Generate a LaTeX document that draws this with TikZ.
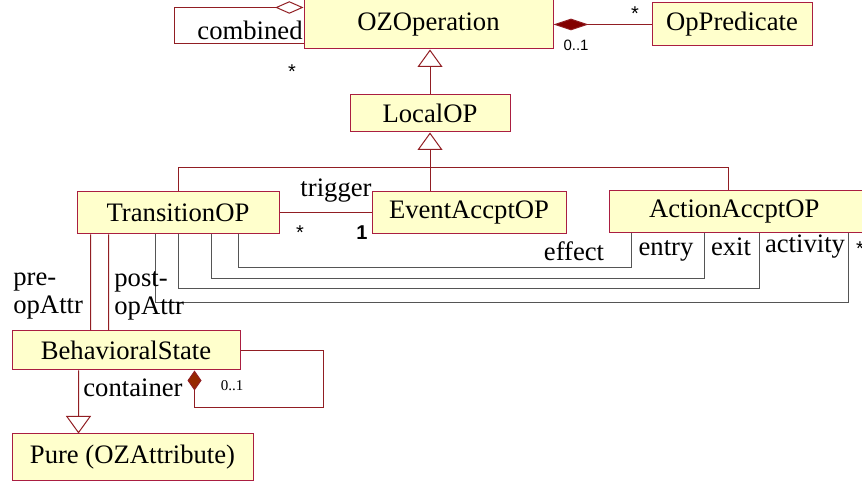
\documentclass[tikz,border=0pt]{standalone}
\usepackage{fontspec}
\setmainfont{Liberation Serif}
\newfontfamily\multfont{Liberation Sans}
\usepackage{tikz}
\usetikzlibrary{arrows.meta}
\usetikzlibrary{positioning}
\definecolor{clsfill}{RGB}{255,255,204}
\definecolor{clsline}{RGB}{170,30,65}
\definecolor{assocline}{RGB}{145,30,35}
\definecolor{refline}{RGB}{85,85,85}
\definecolor{compfill}{RGB}{130,0,0}
\definecolor{contfill}{RGB}{150,40,0}
\tikzstyle{cls}=[draw=clsline, fill=clsfill, line width=0.6pt, inner sep=0pt,
                text=black, font=\fontsize{16}{16.5}\selectfont]
\tikzstyle{elabel}=[fill=none, text=black, inner sep=0pt, align=left,
                font=\fontsize{16}{16.5}\selectfont]
\tikzstyle{mult}=[inner sep=0pt, text=black, font=\multfont\fontsize{12}{13}\selectfont]
\tikzstyle{smult}=[inner sep=0pt, text=black, font=\multfont\fontsize{9}{10}\selectfont]
\tikzstyle{assoc}=[draw=assocline, line width=0.6pt]
\tikzstyle{gen}=[assoc, -{Triangle[open, width=15pt, length=10.5pt, fill=white]}]
\tikzstyle{ref}=[draw=refline, line width=0.6pt]

\begin{document}
\begin{tikzpicture}[x=0.6pt, y=-0.6pt]
  \useasboundingbox (0,0) rectangle (862,481);
  % classes
  \node[cls, minimum width=149.4pt, minimum height=29.4pt] (ozop) at (428.5,24.5) {OZOperation};
  \node[cls, minimum width=96pt, minimum height=25.8pt] (oppred) at (732,24.5) {OpPredicate};
  \node[cls, minimum width=96pt, minimum height=22.2pt] (localop) at (430,113.5) {LocalOP};
  \node[cls, minimum width=121.2pt, minimum height=25.2pt] (trans) at (178,213) {TransitionOP};
  \node[cls, minimum width=116.4pt, minimum height=25.2pt] (event) at (469,213) {EventAccptOP};
  \node[cls, minimum height=25.2pt, text width=114.6pt, inner xsep=24pt, align=left]
    (action) at (744.5,212) {ActionAccptOP};
  \node[cls, minimum width=136.8pt, minimum height=23.4pt] (behav) at (126,350.5) {BehavioralState};
  \node[cls, minimum width=144.6pt, minimum height=27.6pt] (pure) at (132.5,457) {Pure (OZAttribute)};

  % OZOperation
  \draw[assoc, {Diamond[open, length=17pt, width=7.5pt, fill=white]}-]
    ([yshift=-4.8pt]ozop.north west) -- ++(-129,0) |- ([yshift=3.6pt]ozop.south west);
  \node[elabel] (combined) at (250,30) {combined};
  \node[mult] (mcomb) at (292,72) {*};
  \draw[assoc, {Diamond[length=21pt, width=7pt, fill=compfill]}-] (ozop.east) -- (oppred.west);
  \node[smult] (mopa) at (576,45) {0..1};
  \node[mult] (mopb) at (635,14) {*};

  % generalizations
  \draw[gen] (localop.north) -- (localop.north |- ozop.south);
  \draw[gen] (localop.south |- event.north) -- (localop.south);
  \draw[assoc] (trans.north) -- ++(0,-24) -| ([xshift=72pt]action.north west);

  % trigger
  \draw[assoc] (trans.east) -- (event.west);
  \node[elabel] (trigger) at (336,191) {trigger};
  \node[mult] (mtra) at (300,233) {*};
  \node[mult] (mtrb) at (362,233) {\bfseries 1};

  % effect, entry, exit, activity
  \draw[ref] ([xshift=97.2pt]trans.south west) -- ++(0,33) -| ([xshift=13.8pt]action.south west);
  \draw[ref] ([xshift=81pt]trans.south west) -- ++(0,44) -| ([xshift=57.6pt]action.south west);
  \draw[ref] ([xshift=61.2pt]trans.south west) -- ++(0,54) -| ([xshift=90.6pt]action.south west);
  \draw[ref] ([xshift=47.4pt]trans.south west) -- ++(0,68) -| ([xshift=144pt]action.south west);
  \node[elabel] (effect) at (574,251) {effect};
  \node[elabel] (entry) at (666,251) {entry};
  \node[elabel] (exit) at (731,247) {exit};
  \node[elabel] (activity) at (805,247) {activity};
  \node[mult] (mact) at (860,249) {*};

  % opAttr
  \draw[assoc] ([xshift=8.4pt]trans.south west) -- ([xshift=47.4pt]behav.north west);
  \draw[assoc] ([xshift=19.2pt]trans.south west) -- ([xshift=58.2pt]behav.north west);
  \node[elabel, anchor=west] (preop) at (13,296) {pre-\\opAttr};
  \node[elabel, anchor=west] (postop) at (114,296) {post-\\opAttr};

  % BehavioralState
  \draw[assoc, -{Diamond[length=12pt, width=8.4pt, fill=contfill]}]
    (behav.east) -- ++(83,0) -- ++(0,57.5) -| ([xshift=109.8pt]behav.south west);
  \node[elabel] (container) at (133,388) {container};
  \node[smult, font=\fontsize{9}{10}\selectfont] (mcont) at (232,386) {0..1};
  \draw[gen] ([xshift=40.2pt]behav.south west) -- ([xshift=40.2pt]pure.north west);
\end{tikzpicture}
\end{document}
